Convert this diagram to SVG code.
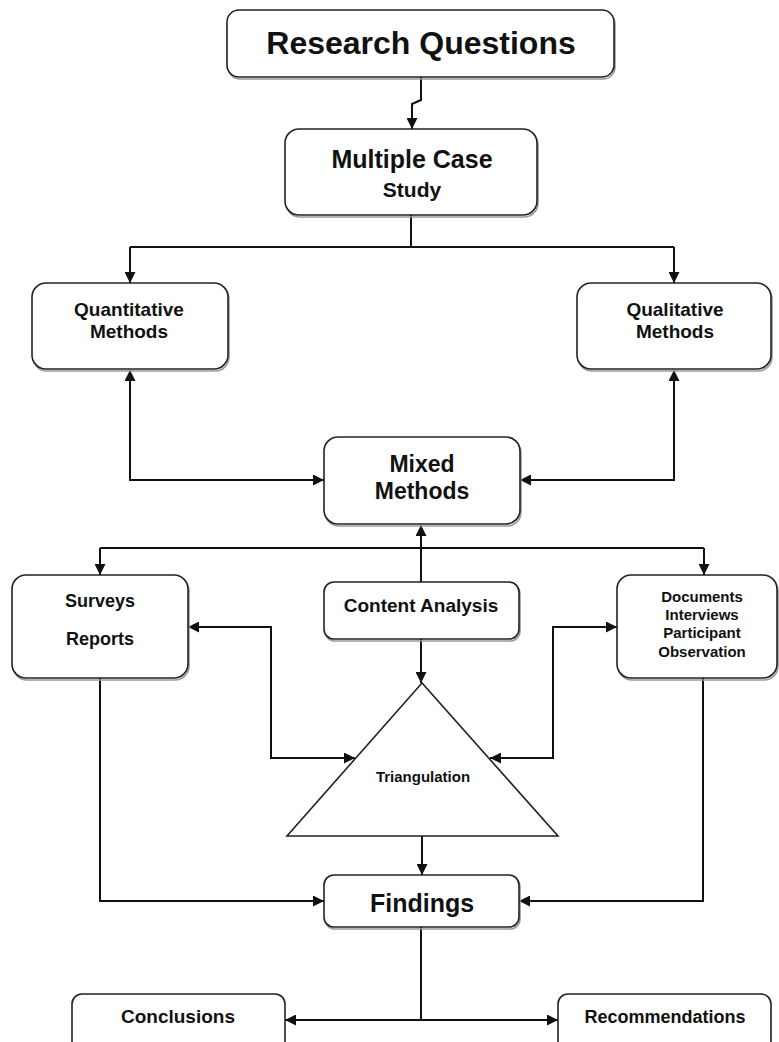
<svg xmlns="http://www.w3.org/2000/svg" width="779" height="1042" viewBox="0 0 779 1042">
<defs>
<style>
.box{fill:#fff;stroke:#222;stroke-width:1.6}
.sh{fill:none;stroke:#9a9a9a;stroke-width:1.6}
.t{font-family:"Liberation Sans",Arial,sans-serif;font-weight:bold;fill:#111;text-anchor:middle}
.c{fill:none;stroke:#111;stroke-width:2}
</style>
<marker id="ah" viewBox="0 0 10 10" refX="10" refY="5" markerWidth="12" markerHeight="11" markerUnits="userSpaceOnUse" orient="auto-start-reverse">
<path d="M0,0 L10,5 L0,10 z" fill="#111"/>
</marker>
</defs>
<rect width="779" height="1042" fill="#fff"/>
<g id="connectors">
<path class="c" d="M421,77 V100 L412,104 V129" marker-end="url(#ah)"/>
<path class="c" d="M411,215 V247 M130,247 H674"/>
<path class="c" d="M130,247 V283" marker-end="url(#ah)"/>
<path class="c" d="M674,247 V283" marker-end="url(#ah)"/>
<path class="c" d="M324,480 H130 V370" marker-start="url(#ah)" marker-end="url(#ah)"/>
<path class="c" d="M520,480 H674 V370" marker-start="url(#ah)" marker-end="url(#ah)"/>
<path class="c" d="M421,582 V525" marker-end="url(#ah)"/>
<path class="c" d="M100,548 H704"/>
<path class="c" d="M100,548 V575" marker-end="url(#ah)"/>
<path class="c" d="M704,548 V575" marker-end="url(#ah)"/>
<path class="c" d="M421,639 V683" marker-end="url(#ah)"/>
<path class="c" d="M188,627 H271 V758 H355" marker-start="url(#ah)" marker-end="url(#ah)"/>
<path class="c" d="M617,627 H553 V758 H490" marker-start="url(#ah)" marker-end="url(#ah)"/>
<path class="c" d="M422,836 V875" marker-end="url(#ah)"/>
<path class="c" d="M100,678 V901 H324" marker-end="url(#ah)"/>
<path class="c" d="M703,678 V901 H519" marker-end="url(#ah)"/>
<path class="c" d="M421,927 V1020"/>
<path class="c" d="M285,1020 H558" marker-start="url(#ah)" marker-end="url(#ah)"/>
</g>
<g id="research-questions">
<rect class="sh" x="228" y="12" width="387" height="67" rx="12"/>
<rect class="box" x="227" y="10" width="387" height="67" rx="12"/>
<text class="t" x="421" y="54" font-size="32">Research Questions</text>
</g>
<g id="multiple-case-study">
<rect class="sh" x="286" y="131" width="252" height="86" rx="14"/>
<rect class="box" x="285" y="129" width="252" height="86" rx="14"/>
<text class="t" x="412" y="168" font-size="25">Multiple Case</text>
<text class="t" x="412" y="197" font-size="21">Study</text>
</g>
<g id="quantitative-methods">
<rect class="sh" x="33" y="285" width="196" height="86" rx="14"/>
<rect class="box" x="32" y="283" width="196" height="86" rx="14"/>
<text class="t" x="129" y="316" font-size="19">Quantitative</text>
<text class="t" x="129" y="338" font-size="19">Methods</text>
</g>
<g id="qualitative-methods">
<rect class="sh" x="578" y="285" width="194" height="86" rx="14"/>
<rect class="box" x="577" y="283" width="194" height="86" rx="14"/>
<text class="t" x="675" y="316" font-size="19">Qualitative</text>
<text class="t" x="675" y="338" font-size="19">Methods</text>
</g>
<g id="mixed-methods">
<rect class="sh" x="325" y="439" width="196" height="87" rx="14"/>
<rect class="box" x="324" y="437" width="196" height="87" rx="14"/>
<text class="t" x="422" y="472" font-size="23">Mixed</text>
<text class="t" x="422" y="499" font-size="23">Methods</text>
</g>
<g id="surveys-reports">
<rect class="sh" x="13" y="577" width="176" height="103" rx="14"/>
<rect class="box" x="12" y="575" width="176" height="103" rx="14"/>
<text class="t" x="100" y="607" font-size="18">Surveys</text>
<text class="t" x="100" y="645" font-size="18">Reports</text>
</g>
<g id="content-analysis">
<rect class="sh" x="325" y="584" width="195" height="57" rx="10"/>
<rect class="box" x="324" y="582" width="195" height="57" rx="10"/>
<text class="t" x="421" y="612" font-size="19">Content Analysis</text>
</g>
<g id="documents">
<rect class="sh" x="618" y="577" width="160" height="103" rx="14"/>
<rect class="box" x="617" y="575" width="160" height="103" rx="14"/>
<text class="t" x="702" y="602" font-size="15">Documents</text>
<text class="t" x="702" y="620" font-size="15">Interviews</text>
<text class="t" x="702" y="638" font-size="15">Participant</text>
<text class="t" x="702" y="657" font-size="15">Observation</text>
</g>
<g id="triangulation">
<polygon class="box" points="422,683 287,836 558,836"/>
<text class="t" x="423" y="782" font-size="15">Triangulation</text>
</g>
<g id="findings">
<rect class="sh" x="325" y="877" width="195" height="52" rx="10"/>
<rect class="box" x="324" y="875" width="195" height="52" rx="10"/>
<text class="t" x="422" y="912" font-size="25">Findings</text>
</g>
<g id="conclusions">
<rect class="box" x="72" y="994" width="213" height="60" rx="10"/>
<text class="t" x="178" y="1023" font-size="19">Conclusions</text>
</g>
<g id="recommendations">
<rect class="box" x="558" y="994" width="213" height="60" rx="10"/>
<text class="t" x="665" y="1023" font-size="18">Recommendations</text>
</g>
</svg>
